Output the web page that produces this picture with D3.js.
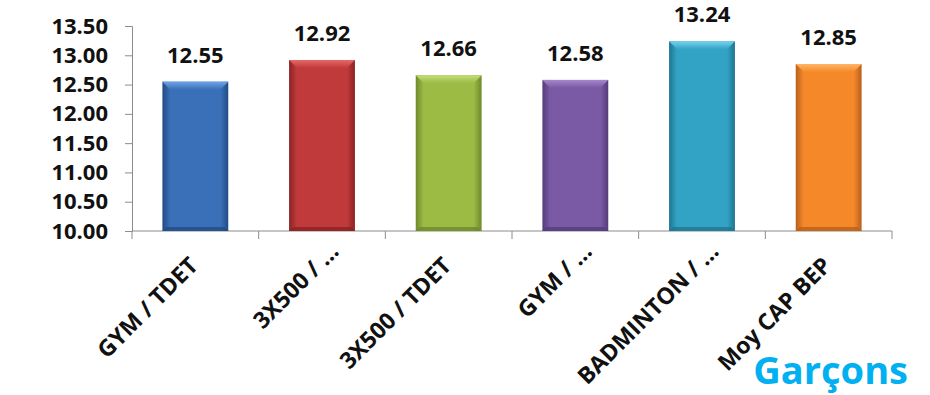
<!DOCTYPE html>
<html>
<head>
<meta charset="utf-8">
<script src="https://cdn.jsdelivr.net/npm/d3@7"></script>
<style>
    body { margin: 0; background: #fff; }
    text { font-family: "Open Sans", sans-serif; font-weight: bold; }
</style>
</head>
<body>
<script>
const categories = ["GYM / TDET", "3X500 / …", "3X500 / TDET", "GYM / …", "BADMINTON / …", "Moy CAP BEP"];
const values = [12.55, 12.92, 12.66, 12.58, 13.24, 12.85];
const yTicks = [10.00, 10.50, 11.00, 11.50, 12.00, 12.50, 13.00, 13.50];
const baseColors = ["#3a70b8", "#c13a3b", "#9bbb45", "#7b5aa5", "#32a3c5", "#f5892a"];
const lightColors = ["#6ea3e6", "#e46a69", "#c2df78", "#a488cc", "#77d3ee", "#ffb567"];
const darkColors = ["#224b85", "#8a2325", "#6c8a2b", "#543c7a", "#1f7590", "#b8601a"];
const title = "Garçons";

const width = 930, height = 395;

const svg = d3.select("body").append("svg")
    .attr("width", width)
    .attr("height", height);

const x = d3.scaleBand()
    .domain(categories)
    .range([132, 892])
    .paddingInner(0.48)
    .paddingOuter(0.24);

const y = d3.scaleLinear()
    .domain([10, 13.5])
    .range([231, 26]);

const defs = svg.append("defs");

categories.forEach((c, i) => {
    const g = defs.append("linearGradient")
        .attr("id", "body" + i)
        .attr("x1", "0%").attr("x2", "100%");
    g.append("stop").attr("offset", "0%").attr("stop-color", darkColors[i]);
    g.append("stop").attr("offset", "12%").attr("stop-color", baseColors[i]);
    g.append("stop").attr("offset", "88%").attr("stop-color", baseColors[i]);
    g.append("stop").attr("offset", "100%").attr("stop-color", darkColors[i]);

    const t = defs.append("linearGradient")
        .attr("id", "top" + i)
        .attr("x1", "0%").attr("x2", "0%").attr("y1", "0%").attr("y2", "100%");
    t.append("stop").attr("offset", "0%").attr("stop-color", lightColors[i]);
    t.append("stop").attr("offset", "100%").attr("stop-color", baseColors[i]);
});

// axes
const axisColor = "#8c8c8c";

const yAxis = svg.append("g")
    .attr("transform", "translate(132,0)")
    .call(d3.axisLeft(y).tickValues(yTicks).tickSize(7).tickPadding(17).tickFormat(d3.format(".2f")));

yAxis.select(".domain").attr("stroke", axisColor);
yAxis.selectAll(".tick line").attr("stroke", axisColor);
yAxis.selectAll(".tick text")
    .attr("fill", "#111")
    .style("font-size", "22px")
    .style("font-family", "'Open Sans', sans-serif")
    .style("font-weight", "bold");

// x axis line and boundary ticks
svg.append("line")
    .attr("x1", 132).attr("x2", 892)
    .attr("y1", 231).attr("y2", 231)
    .attr("stroke", axisColor);

const step = x.step();
svg.selectAll(".xtick")
    .data(d3.range(categories.length + 1))
    .enter().append("line")
    .attr("x1", d => 132 + d * step)
    .attr("x2", d => 132 + d * step)
    .attr("y1", 231).attr("y2", 239)
    .attr("stroke", axisColor);

// bars
const bars = svg.selectAll(".bar")
    .data(categories)
    .enter().append("g");

const bev = 8;

bars.append("rect")
    .attr("x", d => x(d))
    .attr("y", (d, i) => y(values[i]))
    .attr("width", x.bandwidth())
    .attr("height", (d, i) => y(10) - y(values[i]))
    .attr("fill", (d, i) => "url(#body" + i + ")");

// top bevel
bars.append("path")
    .attr("d", (d, i) => {
        const x0 = x(d), x1 = x(d) + x.bandwidth(), t = y(values[i]);
        return `M${x0},${t}L${x1},${t}L${x1 - bev},${t + bev}L${x0 + bev},${t + bev}Z`;
    })
    .attr("fill", (d, i) => "url(#top" + i + ")");

// bottom bevel
bars.append("path")
    .attr("d", (d, i) => {
        const x0 = x(d), x1 = x(d) + x.bandwidth(), b = y(10);
        return `M${x0},${b}L${x1},${b}L${x1 - 4},${b - 4}L${x0 + 4},${b - 4}Z`;
    })
    .attr("fill", (d, i) => darkColors[i])
    .attr("opacity", 0.8);

// value labels
bars.append("text")
    .attr("x", d => x(d) + x.bandwidth() / 2)
    .attr("y", (d, i) => y(values[i]) - 19)
    .attr("text-anchor", "middle")
    .style("font-size", "22px")
    .attr("fill", "#111")
    .text((d, i) => values[i].toFixed(2));

// category labels
svg.selectAll(".cat")
    .data(categories)
    .enter().append("text")
    .attr("transform", d => `translate(${x(d) + x.bandwidth() / 2 + 4},267) rotate(-45)`)
    .attr("text-anchor", "end")
    .attr("dx", d => d.endsWith("…") ? 20 : 0)
    .style("font-size", "23px")
    .attr("fill", "#111")
    .text(d => d);

svg.append("text")
    .attr("x", 908)
    .attr("y", 384)
    .attr("text-anchor", "end")
    .style("font-size", "38px")
    .attr("fill", "#00b0f0")
    .text(title);
</script>
</body>
</html>
